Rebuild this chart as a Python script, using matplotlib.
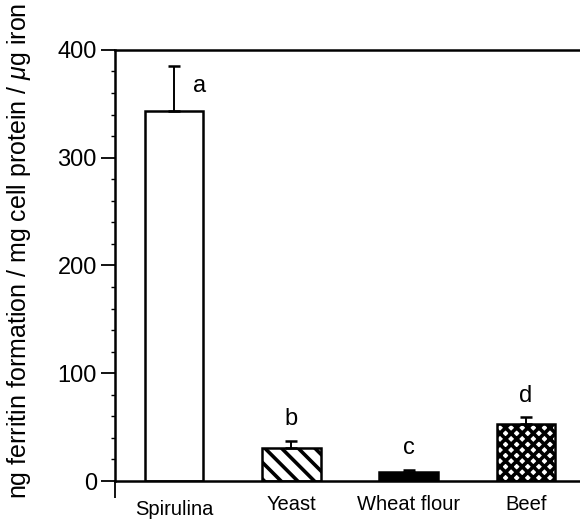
import matplotlib
matplotlib.use("Agg")
import matplotlib.pyplot as plt
from matplotlib.transforms import blended_transform_factory

categories = ["Spirulina", "Yeast", "Wheat flour", "Beef"]
values = [343, 31, 8, 53]
errors = [42, 6, 2, 6]
letters = ["a", "b", "c", "d"]
yticks = [0, 100, 200, 300, 400]
ylabel = "ng ferritin formation / mg cell protein / $\\mu$g iron"

plt.rcParams['font.family'] = ['Liberation Sans', 'DejaVu Sans']
plt.rcParams['hatch.linewidth'] = 2.6
plt.rcParams['mathtext.fontset'] = 'custom'
plt.rcParams['mathtext.it'] = 'Liberation Sans:italic'
plt.rcParams['mathtext.rm'] = 'Liberation Sans'

fig = plt.figure(figsize=(5.8, 5.2), dpi=100)
ax = fig.add_axes([0.198, 0.075, 0.83, 0.829])

x = list(range(len(categories)))
faces = ["white", "white", "black", "white"]
hatches = [None, "\\\\", None, "xxx"]
for xi, v, fc, h in zip(x, values, faces, hatches):
    ax.bar(xi, v, width=0.5, facecolor=fc, edgecolor="black", linewidth=1.8,
           hatch=h, zorder=2)
ax.errorbar(x, values, yerr=[[0]*len(values), errors], fmt="none",
            ecolor="black", elinewidth=1.4, capsize=4, capthick=1.8, zorder=3)

for xi, v, e, t in zip(x, values, errors, letters):
    if xi == 0:
        ax.text(xi + 0.16, v + e - 8, t, ha="left", va="top", fontsize=17)
    else:
        ax.text(xi, v + e + 10, t, ha="center", va="bottom", fontsize=17)

ax.set_xlim(-0.504, 3.6)
ax.set_ylim(0, 400)
ax.set_yticks(yticks)
ax.set_yticks(range(0, 401, 20), minor=True)
ax.tick_params(axis="y", which="major", length=10, width=1.3, labelsize=17,
               direction="out", pad=3)
ax.tick_params(axis="y", which="minor", length=3, width=1, direction="out")
ax.set_xticks([-0.504])
ax.set_xticklabels([""])
ax.tick_params(axis="x", which="major", length=12, width=1.3, direction="out")

trans = blended_transform_factory(ax.transData, ax.transAxes)
for xi, c in zip(x, categories):
    dy = -0.045 if xi == 0 else -0.033
    ax.text(xi, dy, c, transform=trans, ha="center", va="top", fontsize=14.5)

for s in ["left", "bottom", "top"]:
    ax.spines[s].set_linewidth(1.8)
ax.spines["right"].set_visible(False)

fig.text(0.032, 0.04, ylabel, rotation=90, ha="center", va="bottom", fontsize=18)

fig.savefig("out.png", dpi=100)
